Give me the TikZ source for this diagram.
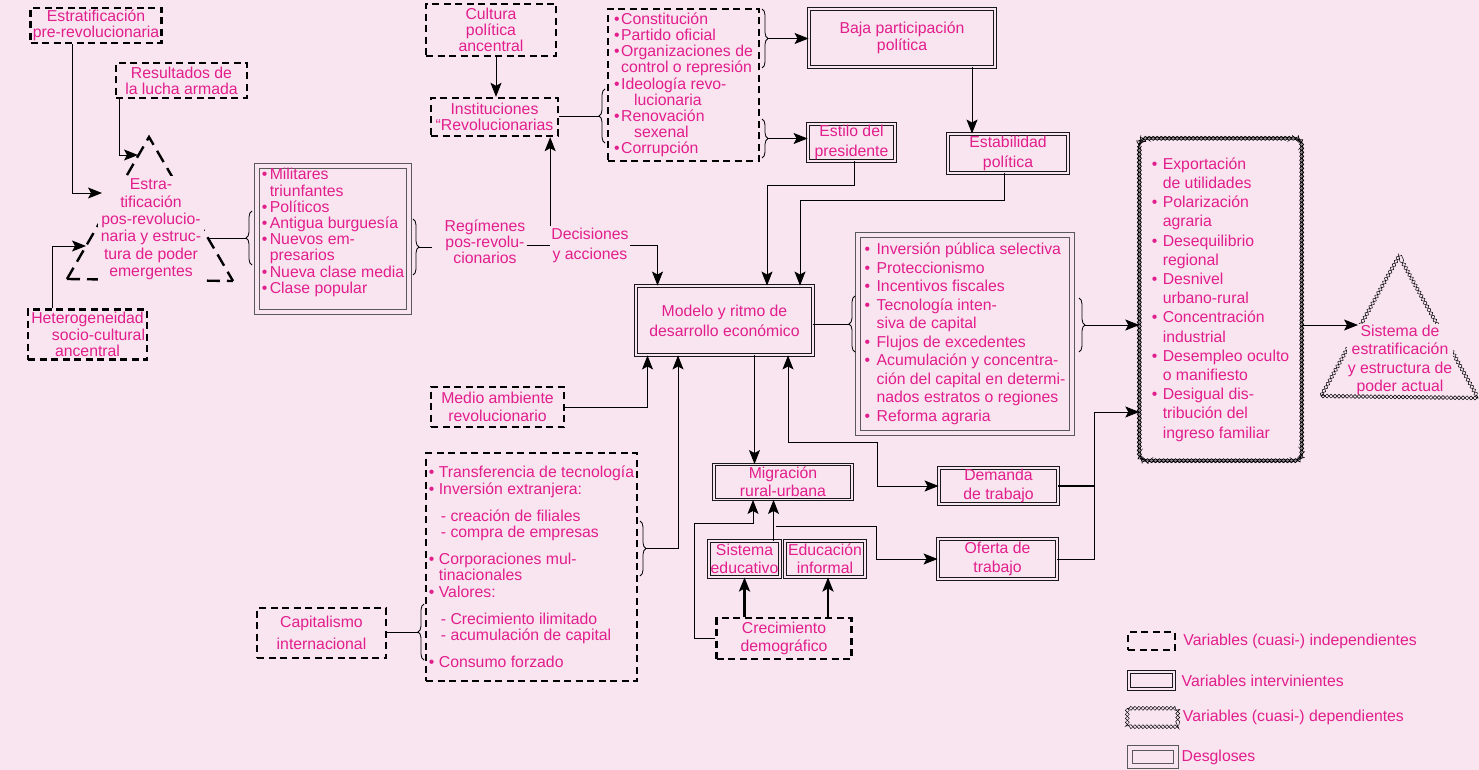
\documentclass[tikz,border=0pt]{standalone}
\usepackage{fontspec}
\setmainfont{Liberation Sans}
\usetikzlibrary{arrows.meta,positioning,decorations.pathreplacing,decorations.pathmorphing}

\definecolor{bgpink}{RGB}{249,229,240}
\definecolor{txtmag}{RGB}{226,30,140}

% bullet and hanging indent for the lists
\newcommand{\itb}[1]{\makebox[#1][l]{•}}
\newcommand{\itc}[1]{\hspace*{#1}}

% the two triangles
\def\leftslopes{(67,279) -- (149,137) -- (233,281)}
\def\leftbase{(67,279) -- (233,281)}
\def\rightslopes{(1321,396) -- (1399,256) -- (1478,398)}
\def\rightbase{(1321,396) -- (1478,398)}

\tikzset{
  indep/.style={draw=black, line width=2.4pt, dash pattern=on 7pt off 4.5pt, align=center},
  interv/.style={draw=black!90, line width=0.9pt, double=bgpink, double distance=1.6pt, align=center},
  desglose/.style={draw=black!65, line width=0.8pt, double=bgpink, double distance=4pt, align=left},
  chainA/.style={draw=black, line width=0.5pt, decorate, decoration={zigzag, segment length=8pt, amplitude=2pt}},
  chainB/.style={chainA, decoration={mirror}},
  tridash/.style={draw=black, line width=2.4pt, dash pattern=on 13pt off 7pt},
  brc/.style={decorate, decoration={brace, amplitude=6pt}, line width=0.8pt},
  conn/.style={line width=0.9pt},
  arr/.style={->, line width=0.9pt},
  arrT/.style={->, line width=2.6pt},
  sp16/.style={font=\fontsize{15.8}{16.2}\selectfont},
  sp17/.style={font=\fontsize{15.8}{17.4}\selectfont},
  sp18/.style={font=\fontsize{15.8}{18.5}\selectfont},
  sp19/.style={font=\fontsize{15.8}{19.2}\selectfont},
  sp20/.style={font=\fontsize{15.8}{20}\selectfont},
  sp22/.style={font=\fontsize{15.8}{22}\selectfont}
}

\begin{document}
\begin{tikzpicture}[x=1pt, y=-1pt, >={Stealth[length=14pt, width=11pt, inset=3pt]},
  every node/.style={text=txtmag, inner sep=1pt, font=\fontsize{15.8}{17}\selectfont}]

  \fill[bgpink] (0,0) rectangle (1479,770);
  \useasboundingbox (0,0) rectangle (1479,770);

  % Triangles first: their text covers part of the edges

  \draw[tridash] \leftslopes;
  \draw[tridash] \leftbase;
  \node[fill=bgpink, align=center, inner sep=3pt, sp17] (triL) at (151,229.5)
    {Estra-\\tificación\\pos-revolucio-\\naria y estruc-\\tura de poder\\emergentes};

  \draw[chainA] \rightslopes;
  \draw[chainB] \rightslopes;
  \node[fill=bgpink, align=center, sp18] (triR) at (1400,360)
    {Sistema de\\estratificación\\y estructura de\\poder actual};
  \draw[chainA] \rightbase;
  \draw[chainB] \rightbase;

  \coordinate (triIn1) at (102,193);
  \coordinate (triIn2) at (138,155);
  \coordinate (triIn3) at (86,246);
  \coordinate (triOut) at (208,238);
  \coordinate (triRin) at (1358,325);

  % left side
  \node[indep, minimum width=131, minimum height=35, sp16] (estPre) at (96,25.5) {Estratificación\\pre-revolucionaria};
  \node[indep, minimum width=131, minimum height=35, sp16] (resLucha) at (181.5,80.5) {Resultados de\\la lucha armada};
  \node[indep, minimum width=119, minimum height=50, sp16] (hetero) at (87.5,334.5) {Heterogeneidad\\\hspace*{22pt}socio-cultural\\ancentral};

  \node[desglose, minimum width=152, minimum height=146, sp16] (grupos) at (333,239)
    {\itb{8pt}Militares\\\itc{8pt}triunfantes\\\itb{8pt}Políticos\\\itb{8pt}Antigua burguesía\\\itb{8pt}Nuevos em-\\\itc{8pt}presarios\\\itb{8pt}Nueva clase media\\\itb{8pt}Clase popular\\\mbox{}};

  \node[sp16, align=center] (reg) at (485,242) {Regímenes\\pos-revolu-\\cionarios};
  \node[sp20, align=center] (dec) at (590,245) {Decisiones\\y acciones};

  % top
  \node[indep, minimum width=130, minimum height=52, sp16] (cultura) at (491,30) {Cultura\\política\\ancentral};
  \node[indep, minimum width=127, minimum height=38, sp16] (inst) at (494.5,117) {Instituciones\\“Revolucionarias};
  \node[indep, minimum width=151, minimum height=152, align=left, sp16] (instList) at (683.5,85)
    {\itb{7pt}Constitución\\\itb{7pt}Partido oficial\\\itb{7pt}Organizaciones de\\\itc{7pt}control o represión\\\itb{7pt}Ideología revo-\\\itc{20pt}lucionaria\\\itb{7pt}Renovación\\\itc{20pt}sexenal\\\itb{7pt}Corrupción};

  \node[interv, minimum width=186, minimum height=58, sp17] (baja) at (902,38) {Baja participación\\política};
  \node[interv, minimum width=87, minimum height=37, sp19] (estilo) at (851.5,142.5) {Estilo del\\presidente};
  \node[interv, minimum width=120, minimum height=39, sp19] (estab) at (1008,153.5) {Estabilidad\\política};

  % middle
  \node[interv, minimum width=177, minimum height=69, sp20] (modelo) at (724.5,320.5) {Modelo y ritmo de\\desarrollo económico};
  \node[desglose, minimum width=214, minimum height=198, sp18] (politicas) at (965,334)
    {\itb{12pt}Inversión pública selectiva\\\itb{12pt}Proteccionismo\\\itb{12pt}Incentivos fiscales\\\itb{12pt}Tecnología inten-\\\itc{12pt}siva de capital\\\itb{12pt}Flujos de excedentes\\\itb{12pt}Acumulación y concentra-\\\itc{12pt}ción del capital en determi-\\\itc{12pt}nados estratos o regiones\\\itb{12pt}Reforma agraria};

  \node[minimum width=162, minimum height=322, align=left, sp19] (resultados) at (1220.5,299.5)
    {\itb{11pt}Exportación\\\itc{11pt}de utilidades\\\itb{11pt}Polarización\\\itc{11pt}agraria\\\itb{11pt}Desequilibrio\\\itc{11pt}regional\\\itb{11pt}Desnivel\\\itc{11pt}urbano-rural\\\itb{11pt}Concentración\\\itc{11pt}industrial\\\itb{11pt}Desempleo oculto\\\itc{11pt}o manifiesto\\\itb{11pt}Desigual dis-\\\itc{11pt}tribución del\\\itc{11pt}ingreso familiar};
  \draw[chainA, rounded corners=6pt] (resultados.north west) rectangle (resultados.south east);
  \draw[chainB, rounded corners=6pt] (resultados.north west) rectangle (resultados.south east);

  % bottom
  \node[indep, minimum width=133, minimum height=40, sp17] (medio) at (497.5,407) {Medio ambiente\\revolucionario};
  \node[indep, minimum width=211, minimum height=228, align=left, sp16] (inversion) at (531.5,567)
    {\itb{10pt}Transferencia de tecnología\\\itb{10pt}Inversión extranjera:\\[11pt]\itc{12pt}- creación de filiales\\\itc{12pt}- compra de empresas\\[11pt]\itb{10pt}Corporaciones mul-\\\itc{10pt}tinacionales\\\itb{10pt}Valores:\\[11pt]\itc{12pt}- Crecimiento ilimitado\\\itc{12pt}- acumulación de capital\\[11pt]\itb{10pt}Consumo forzado};
  \node[indep, minimum width=129, minimum height=50, sp22] (capital) at (321.5,633) {Capitalismo\\internacional};

  \node[interv, minimum width=138, minimum height=35, sp18] (migracion) at (783,482) {Migración\\rural-urbana};
  \node[interv, minimum width=71, minimum height=36, sp18] (sisEdu) at (744.5,559) {Sistema\\educativo};
  \node[interv, minimum width=80, minimum height=36, sp18] (eduInf) at (825,559) {Educación\\informal};
  \node[indep, minimum width=135, minimum height=41, sp18] (crec) at (784,638.5) {Crecimiento\\demográfico};
  \node[interv, minimum width=119, minimum height=35, sp19] (demanda) at (998.5,486) {Demanda\\de trabajo};
  \node[interv, minimum width=119, minimum height=40, sp18] (oferta) at (997.5,559) {Oferta de\\trabajo};

  % Now the braces and their tips

  \coordinate (bGrpL) at (246,238);
  \coordinate (bGrpR) at (419,247);
  \coordinate (bInsL) at (599,116);
  \coordinate (bInsR1) at (768,38.5);
  \coordinate (bInsR2) at (768,138.5);
  \coordinate (bPolL) at (849,324);
  \coordinate (bPolR) at (1085,325);
  \coordinate (bInvR) at (646,548.5);
  \coordinate (bInvL) at (418,632);

  \draw[brc] (252,265) -- (252,211);
  \draw[brc] (413,219) -- (413,275);
  \draw[brc] (605,143) -- (605,89);
  \draw[brc] (762,9) -- (762,68);
  \draw[brc] (762,119) -- (762,158);
  \draw[brc] (855,352) -- (855,296);
  \draw[brc] (1079,298) -- (1079,352);
  \draw[brc] (640,521) -- (640,576);
  \draw[brc] (424,660) -- (424,604);

  % Next, the connectors

  \draw[arr] ([xshift=-24pt]estPre.south) |- (triIn1);
  \draw[arr] ([xshift=-62pt]resLucha.south) |- (triIn2);
  \draw[arr] ([xshift=-35.5pt]hetero.north) |- (triIn3);
  \draw[conn] (triOut) -- (bGrpL);
  \draw[conn, shorten >=11pt] (bGrpR) -- (bGrpR -| reg.west);
  \draw[conn] (reg.east |- dec.west) -- (dec.west);
  \draw[arr] (dec.north west) -- (dec.north west |- inst.south);
  \draw[arr] (dec.east) -| ([xshift=-67pt]modelo.north);

  \draw[arr] ([xshift=5pt]cultura.south) -- ([xshift=5pt]cultura.south |- inst.north);
  \draw[conn] (inst.east |- bInsL) -- (bInsL);
  \draw[arr] (bInsR1) -- (bInsR1 -| baja.west);
  \draw[arr] (bInsR2) -- (bInsR2 -| estilo.west);
  \draw[arr] ([xshift=70pt]baja.south) -- ([xshift=70pt]baja.south |- estab.north);
  \draw[arr] ([xshift=2.5pt]estilo.south) -- ++(0,24) -| ([xshift=42.5pt]modelo.north);
  \draw[arr] ([xshift=-4pt]estab.south) -- ++(0,27) -| ([xshift=75.5pt]modelo.north);

  \draw[conn] (modelo.east |- bPolL) -- (bPolL);
  \draw[arr] (bPolR) -- (bPolR -| resultados.west);
  \draw[arr] (triRin -| resultados.east) -- (triRin);

  \draw[arr] (medio.east) -| ([xshift=-77pt]modelo.south);
  \draw[arr] (bInvR) -| ([xshift=-46.5pt]modelo.south);
  \draw[conn] (capital.east |- bInvL) -- (bInvL);

  \coordinate (dK) at (877,442);
  \coordinate (oK) at (876,526);
  \coordinate (lK) at (694,523);
  \coordinate (rK) at (1094,412);

  \draw[arr] ([xshift=30pt]modelo.south) -- ([xshift=30pt]modelo.south |- migracion.north);
  \draw[<->, line width=0.9pt] ([xshift=63.5pt]modelo.south) |- (dK) |- (demanda.west);
  \draw[arr] ([xshift=29pt]sisEdu.north) -- ([xshift=29pt]sisEdu.north |- migracion.south);
  \draw[arr] ([xshift=31pt]sisEdu.north |- oK) -- (oK) |- (oferta.west);
  \draw[arr] (crec.west) -| (lK) -| ([xshift=-30pt]migracion.south);
  \draw[arrT] (sisEdu.south |- crec.north) -- (sisEdu.south);
  \draw[arrT] ([xshift=3pt]eduInf.south |- crec.north) -- ([xshift=3pt]eduInf.south);

  \draw[line width=2.4pt] (demanda.east) -- (demanda.east -| rK);
  \draw[arr] (oferta.east) -| (rK) -- (rK -| resultados.west);

  % legend
  \node[indep, minimum width=47, minimum height=18] (legInd) at (1151.5,641) {};
  \node[interv, minimum width=45, minimum height=17] (legInt) at (1151.5,680.5) {};
  \node[minimum width=50, minimum height=18] (legDep) at (1152.5,717.5) {};
  \draw[chainA] (legDep.north west) rectangle (legDep.south east);
  \draw[chainB] (legDep.north west) rectangle (legDep.south east);
  \node[desglose, minimum width=46, minimum height=18] (legDes) at (1153,757) {};

  \node[right=6pt of legInd] (legIndTxt) {Variables (cuasi-) independientes};
  \node[right=6pt of legInt] (legIntTxt) {Variables intervinientes};
  \node[right=4pt of legDep] (legDepTxt) {Variables (cuasi-) dependientes};
  \node[right=4pt of legDes] (legDesTxt) {Desgloses};

\end{tikzpicture}
\end{document}
